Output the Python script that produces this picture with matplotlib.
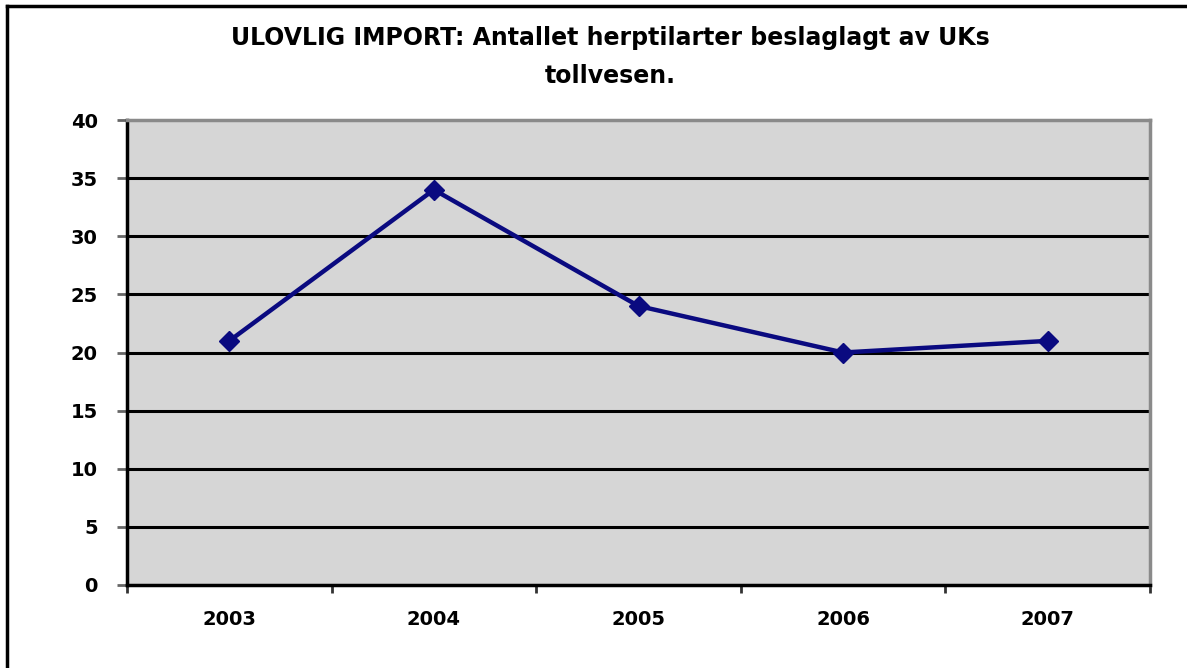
import matplotlib
matplotlib.use("Agg")
import matplotlib.pyplot as plt
from matplotlib.lines import Line2D
import numpy as np

years = ["2003", "2004", "2005", "2006", "2007"]
values = [21, 34, 24, 20, 21]
yticks = [0, 5, 10, 15, 20, 25, 30, 35, 40]
title = "ULOVLIG IMPORT: Antallet herptilarter beslaglagt av UKs\ntollvesen."

W, H = 1187, 668
fig = plt.figure(figsize=(W / 100, H / 100), dpi=100)
fig.patch.set_facecolor("white")

ax = fig.add_axes([127 / W, 1 - 585 / H, (1150 - 127) / W, (585 - 120) / H])
ax.set_facecolor("#D6D6D6")

x = np.arange(len(years))
ax.set_xlim(-0.5, len(years) - 0.5)
ax.set_ylim(0, 40)

for yv in yticks[1:-1]:
    ax.axhline(yv, color="black", lw=2.2, zorder=1)

ax.plot(x, values, color="#0A0A80", lw=3.2, marker="D", markersize=10,
        markerfacecolor="#0A0A80", markeredgecolor="#0A0A80", zorder=3)

ax.spines["left"].set_color("black")
ax.spines["left"].set_linewidth(2.5)
ax.spines["bottom"].set_color("black")
ax.spines["bottom"].set_linewidth(2.5)
ax.spines["top"].set_color("#8A8A8A")
ax.spines["top"].set_linewidth(2.5)
ax.spines["right"].set_color("#8A8A8A")
ax.spines["right"].set_linewidth(2.5)

ax.set_yticks(yticks)
ax.set_yticklabels([str(v) for v in yticks], fontsize=14, fontweight="bold",
                   family="DejaVu Sans")
ax.tick_params(axis="y", length=7, width=2, color="#666666", pad=14)

ax.set_xticks(x)
ax.set_xticklabels(years, fontsize=14, fontweight="bold", family="DejaVu Sans")
ax.tick_params(axis="x", which="major", length=0, pad=18)
ax.set_xticks(np.arange(-0.5, len(years), 1.0), minor=True)
ax.tick_params(axis="x", which="minor", length=6, width=2, color="#333333", direction="out")

fig.text(610 / W, 1 - 57 / H, title, ha="center", va="center", fontsize=17,
         fontweight="bold", linespacing=1.75)

# outer frame (left and top edges)
fig.add_artist(Line2D([7 / W, 7 / W], [0, 1 - 6 / H], color="black", lw=2.5,
                      transform=fig.transFigure))
fig.add_artist(Line2D([7 / W, 1], [1 - 6 / H, 1 - 6 / H], color="black", lw=2.5,
                      transform=fig.transFigure))

fig.savefig("out.png", dpi=100)
